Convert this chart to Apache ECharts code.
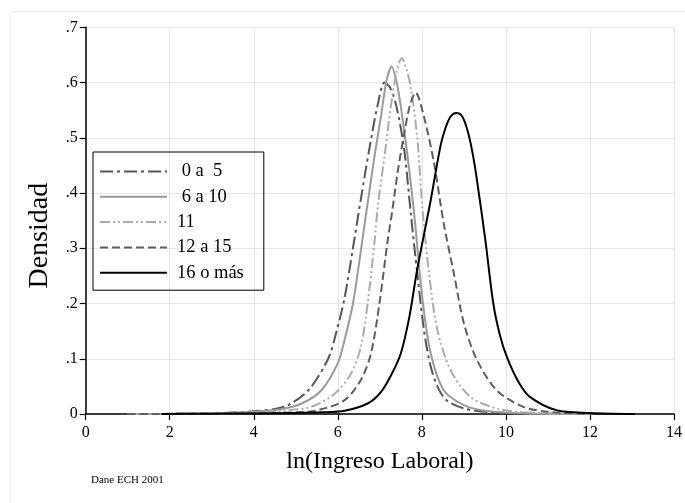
<!DOCTYPE html>
<html>
<head>
<meta charset="utf-8">
<script src="https://cdn.jsdelivr.net/npm/echarts@6/dist/echarts.min.js"></script>
<style>
  html, body { margin: 0; padding: 0; background: #fff; }
  #chart { width: 685px; height: 503px; }
</style>
</head>
<body>
<div id="chart"></div>
<script>
  // densidades: [ln(ingreso), densidad]
  var edu0a5 = [[1.0,0],[3.0,0.001],[4.0,0.005],[4.5,0.009],[4.82,0.016],[5.3,0.043],[5.77,0.10],[5.97,0.15],
    [6.16,0.21],[6.36,0.30],[6.55,0.39],[6.75,0.48],[6.95,0.56],[7.11,0.60],[7.25,0.59],[7.4,0.555],
    [7.58,0.478],[7.74,0.36],[7.89,0.255],[8.05,0.152],[8.21,0.086],[8.4,0.045],[8.6,0.024],[9.0,0.010],
    [9.5,0.004],[10.5,0.001],[12.1,0]];
  var edu6a10 = [[1.0,0],[3.0,0.001],[4.0,0.004],[4.6,0.008],[5.14,0.019],[5.61,0.043],[6.0,0.092],[6.16,0.134],
    [6.36,0.20],[6.5,0.27],[6.64,0.345],[6.79,0.424],[6.9,0.48],[7.03,0.54],[7.15,0.60],[7.28,0.629],
    [7.4,0.60],[7.5,0.556],[7.66,0.466],[7.82,0.36],[8.01,0.21],[8.21,0.11],[8.52,0.043],[9.0,0.016],
    [9.5,0.006],[10.5,0.001],[12.1,0]];
  var edu11 = [[1.0,0],[3.0,0.0005],[4.0,0.002],[4.7,0.006],[5.37,0.013],[5.93,0.037],[6.32,0.074],[6.55,0.122],
    [6.71,0.20],[6.87,0.31],[6.95,0.375],[7.11,0.466],[7.26,0.556],[7.4,0.62],[7.52,0.644],[7.63,0.625],
    [7.74,0.59],[7.89,0.50],[8.01,0.375],[8.17,0.255],[8.37,0.152],[8.68,0.080],[9.15,0.031],[9.78,0.010],
    [10.5,0.003],[12.1,0]];
  var edu12a15 = [[1.0,0],[3.0,0.0005],[4.0,0.001],[5.0,0.003],[5.53,0.007],[6.16,0.025],[6.55,0.062],[6.79,0.11],
    [6.99,0.20],[7.18,0.31],[7.3,0.37],[7.42,0.436],[7.58,0.508],[7.72,0.56],[7.85,0.582],[8.05,0.538],
    [8.29,0.454],[8.52,0.345],[8.76,0.255],[9.0,0.164],[9.31,0.098],[9.78,0.043],[10.41,0.013],[11.0,0.004],
    [12.1,0]];
  var edu16 = [[1.8,0],[3.0,0.0005],[4.0,0.001],[5.0,0.002],[5.6,0.003],[6.16,0.006],[6.71,0.019],[7.03,0.04],
    [7.3,0.075],[7.5,0.11],[7.7,0.175],[7.89,0.262],[8.21,0.387],[8.44,0.484],[8.55,0.515],[8.68,0.538],
    [8.82,0.545],[8.95,0.54],[9.08,0.515],[9.2,0.475],[9.31,0.424],[9.51,0.315],[9.70,0.20],[9.85,0.145],
    [10.02,0.104],[10.3,0.058],[10.57,0.031],[11.2,0.007],[12.0,0.002],[13.07,0]];

  var seriesNames = [' 0 a  5', ' 6 a 10', '11', '12 a 15', '16 o más'];
  var seriesData = [edu0a5, edu6a10, edu11, edu12a15, edu16];
  var lineColors = ['#555555', '#9a9a9a', '#ababab', '#5e5e5e', '#000000'];
  var lineDash = [[13, 4, 3, 4], 'solid', [10, 3, 2, 3, 2, 3], [8, 4], 'solid'];

  var serif = 'Liberation Serif';
  var chartDom = document.getElementById('chart');
  var myChart = echarts.init(chartDom);

  var series = [];
  for (var i = 0; i < seriesNames.length; i++) {
    series.push({
      name: seriesNames[i],
      type: 'line',
      symbol: 'none',
      smooth: 0.3,
      data: seriesData[i],
      lineStyle: { color: lineColors[i], width: 2, type: lineDash[i] },
      itemStyle: { color: lineColors[i] },
      z: i == 4 ? 5 : 2
    });
  }

  var option = {
    animation: false,
    backgroundColor: '#fff',
    grid: { left: 85.7, right: 6.4, top: 27.3, bottom: 89 },
    legend: {
      orient: 'vertical',
      left: 93,
      top: 152,
      borderColor: '#000',
      borderWidth: 1,
      padding: [10, 20, 8, 6],
      itemWidth: 67,
      itemHeight: 18,
      itemGap: 6.3,
      data: seriesNames,
      itemStyle: { opacity: 0 },
      textStyle: { fontFamily: serif, fontSize: 18.5, lineHeight: 18, color: '#000', padding: [0, 0, 0, 5] }
    },
    xAxis: {
      type: 'value',
      min: 0,
      max: 14,
      interval: 2,
      name: 'ln(Ingreso Laboral)',
      nameLocation: 'middle',
      nameGap: 36,
      nameTextStyle: { fontFamily: serif, fontSize: 24, color: '#000' },
      axisLine: { show: true, onZero: false, lineStyle: { color: '#000', width: 1.5 } },
      axisTick: { show: true, length: 6, lineStyle: { color: '#000', width: 1.2 } },
      axisLabel: { fontFamily: serif, fontSize: 16, color: '#000', margin: 11 },
      splitLine: { show: true, lineStyle: { color: '#e6e6e6', width: 1.2 } }
    },
    yAxis: {
      type: 'value',
      min: 0,
      max: 0.7,
      interval: 0.1,
      name: 'Densidad',
      nameLocation: 'middle',
      nameGap: 32,
      nameTextStyle: { fontFamily: serif, fontSize: 28, color: '#000', padding: [0, 30, 0, 0] },
      axisLine: { show: true, lineStyle: { color: '#000', width: 1.5 } },
      axisTick: { show: true, length: 6, lineStyle: { color: '#000', width: 1.2 } },
      axisLabel: {
        fontFamily: serif, fontSize: 16, color: '#000', margin: 8,
        formatter: function (v) {
          if (v === 0) return '0';
          return v.toFixed(1).replace('0.', '.');
        }
      },
      splitLine: { show: true, lineStyle: { color: '#e6e6e6', width: 1.2 } }
    },
    graphic: [
      {
        type: 'rect',
        left: 8, top: 9,
        shape: { width: 700, height: 520 },
        style: { fill: 'none', stroke: '#eeeeee', lineWidth: 1 },
        silent: true,
        z: -10
      },
      {
        type: 'text',
        left: 91, top: 475,
        style: { text: 'Dane ECH 2001', fontFamily: serif, fontSize: 11, fill: '#000' }
      }
    ],
    series: series
  };

  option && myChart.setOption(option);
</script>
</body>
</html>
